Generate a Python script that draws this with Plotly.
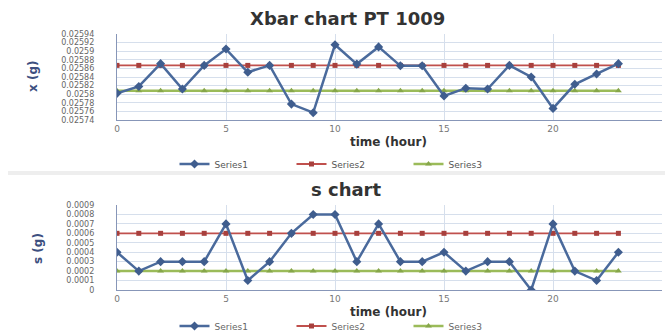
import plotly.graph_objects as go

W, H = 665, 335

# ---- data -------------------------------------------------------------
hours = [0, 1, 2, 3, 4, 5, 6, 7, 8, 9, 10, 11, 12, 13, 14, 15, 16, 17, 18, 19, 20, 21, 22, 23]

xbar = [0.025802, 0.025818, 0.025871, 0.025812, 0.025867, 0.025905, 0.025851, 0.025867,
        0.025777, 0.025757, 0.025915, 0.025870, 0.025910, 0.025866, 0.025866, 0.025796,
        0.025814, 0.025812, 0.025867, 0.025840, 0.025767, 0.025823, 0.025847, 0.025871]
xbar_upper = [0.025867] * 24
xbar_lower = [0.025808] * 24

s_vals = [0.0004, 0.0002, 0.0003, 0.0003, 0.0003, 0.0007, 0.0001, 0.0003,
          0.0006, 0.0008, 0.0008, 0.0003, 0.0007, 0.0003, 0.0003, 0.0004,
          0.0002, 0.0003, 0.0003, 0.0, 0.0007, 0.0002, 0.0001, 0.0004]
s_upper = [0.0006] * 24
s_lower = [0.0002] * 24

xbar_ticks = [0.02574, 0.02576, 0.02578, 0.0258, 0.02582, 0.02584,
              0.02586, 0.02588, 0.0259, 0.02592, 0.02594]
s_ticks = [0, 0.0001, 0.0002, 0.0003, 0.0004, 0.0005, 0.0006, 0.0007, 0.0008, 0.0009]
hour_ticks = [0, 5, 10, 15, 20, 25]

series_names = ["Series1", "Series2", "Series3"]

# ---- style ------------------------------------------------------------
BLUE, RED, GREEN = "#4a6a9c", "#c0504d", "#9bbb59"
GRID = "#d6dfec"
AXIS = "#8796b8"
FONT = "DejaVu Sans"


def px_x(p):
    return p / W


def px_y(p):
    return 1 - p / H


fig = go.Figure()


def add_chart(y_main, y_up, y_low, xa, ya, legend):
    fig.add_trace(go.Scatter(
        x=hours, y=y_main, name=series_names[0], xaxis=xa, yaxis=ya, legend=legend,
        mode="lines+markers", line=dict(color=BLUE, width=2.5),
        marker=dict(symbol="diamond", size=7, color="#3f5d8e")))
    fig.add_trace(go.Scatter(
        x=hours, y=y_up, name=series_names[1], xaxis=xa, yaxis=ya, legend=legend,
        mode="lines+markers", line=dict(color=RED, width=1.8),
        marker=dict(symbol="square", size=5, color="#a8403d")))
    fig.add_trace(go.Scatter(
        x=hours, y=y_low, name=series_names[2], xaxis=xa, yaxis=ya, legend=legend,
        mode="lines+markers", line=dict(color=GREEN, width=2.5),
        marker=dict(symbol="triangle-up", size=6, color="#86a64a")))


add_chart(xbar, xbar_upper, xbar_lower, "x", "y", "legend")
add_chart(s_vals, s_upper, s_lower, "x2", "y2", "legend2")

# draw the measured series on top of the limit lines
order = [1, 2, 0, 4, 5, 3]
fig.data = tuple(fig.data[i] for i in order)
for tr in fig.data:
    tr.legendrank = {"Series1": 1, "Series2": 2, "Series3": 3}[tr.name]

ytick_font = dict(family=FONT, size=8, color="#666666")
xtick_font = dict(family=FONT, size=9, color="#777777")

xaxis_common = dict(range=[0, 25], tickvals=hour_ticks, ticktext=[str(v) for v in hour_ticks],
                    showgrid=True, gridcolor=GRID, gridwidth=1, zeroline=False,
                    showline=True, linecolor=AXIS, linewidth=1.2, ticks="",
                    tickfont=xtick_font, domain=[px_x(117), px_x(662)])
yaxis_common = dict(showgrid=True, gridcolor=GRID, gridwidth=1, zeroline=False,
                    showline=True, linecolor=AXIS, linewidth=1.2, ticks="",
                    tickfont=ytick_font, ticklabelstandoff=20)

fig.update_layout(
    width=W, height=H,
    margin=dict(l=0, r=0, t=0, b=0, autoexpand=False),
    paper_bgcolor="white", plot_bgcolor="white",
    showlegend=True,
    xaxis=dict(**xaxis_common, anchor="y"),
    yaxis=dict(**yaxis_common, anchor="x", range=[0.02574, 0.02594],
               tickvals=xbar_ticks, ticktext=[f"{v:g}" for v in xbar_ticks],
               domain=[px_y(120), px_y(34)]),
    xaxis2=dict(**xaxis_common, anchor="y2"),
    yaxis2=dict(**yaxis_common, anchor="x2", range=[0, 0.0009],
                tickvals=s_ticks, ticktext=[f"{v:g}" for v in s_ticks],
                domain=[px_y(290), px_y(205)]),
    legend=dict(orientation="h", x=px_x(350), y=px_y(164), xanchor="center", yanchor="middle",
                font=dict(family=FONT, size=9, color="#555555"), entrywidth=72,
                bgcolor="rgba(0,0,0,0)", traceorder="normal"),
    legend2=dict(orientation="h", x=px_x(350), y=px_y(326), xanchor="center", yanchor="middle",
                 font=dict(family=FONT, size=9, color="#666666"), entrywidth=72,
                 bgcolor="rgba(0,0,0,0)", traceorder="normal"),
)

# band separating the two charts
fig.add_shape(type="rect", xref="paper", yref="paper",
              x0=px_x(8), x1=1, y0=px_y(175), y1=px_y(171),
              fillcolor="#eeeeee", line=dict(width=0), layer="below")

title_font = dict(family=FONT, size=18, color="#333333")
label_font = dict(family=FONT, size=12, color="#333333")
ytitle_font = dict(family=FONT, size=12, color="#3d4f80")

annotations = [
    dict(text="<b>Xbar chart PT 1009</b>", x=px_x(347), y=px_y(18), font=title_font),
    dict(text="<b>s chart</b>", x=px_x(346), y=px_y(189), font=title_font),
    dict(text="<b>time (hour)</b>", x=px_x(388), y=px_y(142), font=label_font),
    dict(text="<b>time (hour)</b>", x=px_x(388), y=px_y(312), font=label_font),
    dict(text="<b>x (g)</b>", x=px_x(33), y=px_y(77), font=ytitle_font, textangle=-90),
    dict(text="<b>s (g)</b>", x=px_x(38), y=px_y(249), font=ytitle_font, textangle=-90),
]
for a in annotations:
    fig.add_annotation(xref="paper", yref="paper", showarrow=False,
                       xanchor="center", yanchor="middle", **a)

fig.write_html("out.html")
